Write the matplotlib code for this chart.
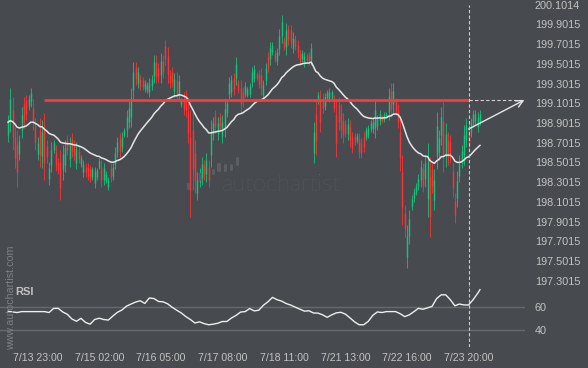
import numpy as np
import pandas as pd
import matplotlib
matplotlib.use("Agg")
import matplotlib.pyplot as plt
from matplotlib.patches import FancyBboxPatch

# ---------------- data ----------------
opens = [198.78, 198.92, 199.03, 198.76, 198.69, 198.59, 198.83, 199.09, 199.13, 199.07,
         199.12, 199.05, 198.87, 198.59, 198.83, 198.57, 198.83, 198.67, 198.33, 198.48,
         198.63, 198.61, 198.51, 198.51, 198.42, 198.48, 198.73, 198.54, 198.74, 198.68,
         198.50, 198.62, 198.49, 198.40, 198.46, 198.46, 198.44, 198.35, 198.29, 198.35,
         198.46, 198.46, 198.32, 198.32, 198.25, 198.45, 198.36, 198.49, 198.61, 198.74,
         198.66, 198.78, 198.83, 198.91, 198.96, 199.24, 199.46, 199.31, 199.35, 199.34,
         199.25, 199.24, 199.22, 199.28, 199.38, 199.52, 199.46, 199.39, 199.53, 199.68,
         199.58, 199.39, 199.42, 199.23, 199.34, 199.20, 199.09, 199.16, 199.17, 199.01,
         198.76, 198.83, 198.60, 198.19, 198.30, 198.34, 198.48, 198.38, 198.46, 198.58,
         198.79, 198.97, 198.79, 198.96, 198.77, 198.85, 199.00, 199.20, 199.22, 199.36,
         199.36, 199.31, 199.26, 199.22, 199.21, 199.19, 199.20, 199.32, 199.36, 199.40,
         199.40, 199.39, 199.19, 199.34, 199.57, 199.55, 199.62, 199.61, 199.53, 199.65,
         199.78, 199.74, 199.67, 199.85, 199.84, 199.66, 199.75, 199.69, 199.60, 199.55,
         199.51, 199.59, 199.59, 199.54, 198.60, 198.99, 199.12, 199.14, 199.16, 199.07,
         199.16, 199.15, 199.16, 199.15, 198.99, 199.09, 199.00, 198.92, 198.89, 198.79,
         198.86, 198.76, 198.77, 198.73, 198.74, 198.70, 198.76, 198.76, 198.78, 198.84,
         198.84, 198.85, 198.87, 198.92, 198.96, 198.94, 198.97, 199.01, 199.23, 199.09,
         199.12, 199.02, 198.81, 198.40, 197.99, 197.54, 197.76, 198.06, 198.14, 198.20,
         198.26, 198.32, 198.43, 198.33, 198.13, 198.35, 198.43, 198.12, 198.57, 198.61,
         198.78, 198.92, 198.57, 198.73, 198.71, 198.41, 198.11, 198.14, 198.36, 198.51,
         198.58, 198.73, 198.83, 198.81, 198.90, 198.92, 198.86, 198.92]
highs = [198.98, 199.26, 199.17, 198.86, 198.83, 198.78, 199.06, 199.17, 199.19, 199.19,
         199.26, 199.14, 198.95, 198.76, 198.95, 198.93, 199.00, 198.73, 198.51, 198.71,
         198.73, 198.68, 198.55, 198.63, 198.68, 198.73, 198.78, 198.76, 198.80, 198.73,
         198.71, 198.66, 198.58, 198.53, 198.50, 198.50, 198.48, 198.46, 198.46, 198.45,
         198.55, 198.53, 198.50, 198.41, 198.35, 198.50, 198.50, 198.66, 198.76, 198.80,
         198.81, 198.85, 199.03, 199.12, 199.26, 199.52, 199.52, 199.47, 199.39, 199.37,
         199.34, 199.32, 199.36, 199.39, 199.59, 199.59, 199.51, 199.61, 199.59, 199.74,
         199.67, 199.44, 199.47, 199.41, 199.42, 199.39, 199.16, 199.22, 199.24, 199.12,
         199.03, 199.03, 198.73, 198.40, 198.45, 198.56, 198.53, 198.60, 198.53, 198.93,
         198.96, 199.03, 198.96, 199.00, 198.98, 199.14, 199.14, 199.37, 199.39, 199.41,
         199.57, 199.34, 199.34, 199.27, 199.32, 199.27, 199.31, 199.47, 199.49, 199.42,
         199.44, 199.46, 199.34, 199.51, 199.62, 199.72, 199.72, 199.64, 199.66, 199.85,
         200.00, 199.77, 199.92, 199.90, 199.90, 199.82, 199.79, 199.74, 199.64, 199.64,
         199.62, 199.61, 199.62, 199.71, 198.91, 199.13, 199.22, 199.24, 199.21, 199.21,
         199.24, 199.26, 199.24, 199.19, 199.14, 199.17, 199.09, 199.00, 198.93, 198.95,
         198.93, 198.81, 198.80, 198.80, 198.80, 198.75, 198.81, 198.86, 198.88, 198.93,
         198.95, 199.14, 198.98, 199.03, 198.98, 199.01, 199.01, 199.26, 199.31, 199.31,
         199.16, 199.09, 198.95, 198.58, 198.07, 197.87, 198.02, 198.17, 198.24, 198.29,
         198.38, 198.53, 198.50, 198.58, 198.70, 198.56, 198.50, 198.43, 199.01, 198.83,
         199.06, 199.11, 198.90, 198.81, 198.78, 198.50, 198.19, 198.41, 198.58, 198.68,
         198.88, 198.95, 198.91, 198.95, 199.03, 199.03, 199.01, 199.03]
lows = [198.71, 198.81, 198.63, 198.45, 198.25, 198.53, 198.75, 198.85, 198.93, 199.03,
        199.06, 198.83, 198.63, 198.53, 198.46, 198.45, 198.32, 198.50, 198.27, 198.40,
        198.60, 198.41, 198.38, 198.12, 198.32, 198.40, 198.58, 198.46, 198.56, 198.53,
        198.43, 198.50, 198.46, 198.35, 198.35, 198.32, 198.30, 198.32, 198.24, 198.32,
        198.43, 198.25, 198.27, 198.29, 198.22, 198.30, 198.32, 198.43, 198.56, 198.56,
        198.61, 198.76, 198.76, 198.85, 198.86, 199.14, 199.29, 199.26, 199.24, 199.24,
        199.22, 199.21, 199.17, 199.24, 199.31, 199.31, 199.32, 199.31, 199.36, 199.49,
        199.31, 199.26, 199.27, 199.17, 199.12, 199.14, 199.06, 198.98, 198.96, 198.70,
        197.95, 198.22, 198.19, 198.12, 198.25, 198.27, 198.32, 198.30, 198.25, 198.46,
        198.73, 198.80, 198.73, 198.83, 198.70, 198.76, 198.96, 199.14, 199.17, 199.19,
        199.29, 199.21, 199.00, 199.06, 199.17, 199.17, 199.17, 199.27, 199.32, 199.34,
        199.26, 199.19, 199.14, 199.29, 199.42, 199.49, 199.59, 199.52, 199.49, 199.59,
        199.71, 199.64, 199.59, 199.69, 199.66, 199.61, 199.64, 199.56, 199.49, 199.52,
        199.47, 199.52, 199.49, 199.49, 198.50, 198.58, 199.09, 198.81, 199.00, 199.03,
        199.14, 199.11, 199.14, 199.01, 198.56, 198.83, 198.75, 198.70, 198.76, 198.73,
        198.66, 198.60, 198.68, 198.70, 198.55, 198.55, 198.61, 198.73, 198.75, 198.81,
        198.80, 198.75, 198.83, 198.88, 198.90, 198.91, 198.95, 198.93, 198.96, 199.00,
        198.98, 198.85, 198.41, 197.87, 197.75, 197.43, 197.67, 198.02, 198.10, 198.17,
        198.22, 198.25, 198.20, 198.25, 197.95, 197.75, 198.19, 198.02, 198.43, 198.53,
        198.68, 198.40, 198.46, 198.48, 198.50, 198.15, 197.89, 198.05, 198.30, 198.45,
        198.48, 198.66, 198.61, 198.76, 198.86, 198.88, 198.81, 198.88]
closes = [198.91, 199.15, 198.76, 198.55, 198.40, 198.72, 198.98, 198.93, 198.99, 199.15,
          199.21, 198.91, 198.71, 198.70, 198.58, 198.81, 198.50, 198.56, 198.45, 198.63,
          198.70, 198.48, 198.42, 198.24, 198.59, 198.65, 198.63, 198.68, 198.62, 198.58,
          198.64, 198.54, 198.55, 198.49, 198.40, 198.36, 198.34, 198.43, 198.41, 198.42,
          198.52, 198.32, 198.45, 198.38, 198.32, 198.35, 198.46, 198.60, 198.71, 198.62,
          198.76, 198.83, 198.96, 199.05, 199.16, 199.42, 199.35, 199.42, 199.28, 199.27,
          199.31, 199.29, 199.31, 199.35, 199.52, 199.38, 199.37, 199.53, 199.42, 199.55,
          199.40, 199.31, 199.32, 199.35, 199.20, 199.33, 199.14, 199.04, 199.03, 198.80,
          198.22, 198.43, 198.32, 198.32, 198.40, 198.49, 198.38, 198.53, 198.32, 198.81,
          198.90, 198.86, 198.90, 198.87, 198.91, 199.04, 199.10, 199.31, 199.34, 199.24,
          199.50, 199.24, 199.09, 199.12, 199.28, 199.25, 199.28, 199.42, 199.45, 199.36,
          199.30, 199.26, 199.29, 199.46, 199.47, 199.66, 199.69, 199.55, 199.62, 199.78,
          199.93, 199.67, 199.84, 199.74, 199.72, 199.76, 199.68, 199.61, 199.53, 199.61,
          199.58, 199.54, 199.52, 199.66, 198.81, 198.72, 199.19, 198.91, 199.05, 199.17,
          199.22, 199.22, 199.22, 199.05, 198.70, 198.91, 198.83, 198.78, 198.80, 198.89,
          198.73, 198.65, 198.71, 198.77, 198.61, 198.60, 198.66, 198.83, 198.85, 198.90,
          198.91, 199.03, 198.94, 198.99, 198.92, 198.98, 198.99, 199.18, 199.04, 199.23,
          199.02, 198.91, 198.55, 198.05, 197.83, 197.76, 197.93, 198.13, 198.20, 198.26,
          198.33, 198.46, 198.27, 198.50, 198.52, 197.95, 198.26, 198.32, 198.87, 198.75,
          198.96, 198.58, 198.79, 198.56, 198.57, 198.24, 197.97, 198.31, 198.49, 198.62,
          198.78, 198.88, 198.69, 198.90, 198.99, 198.99, 198.96, 198.99]

# RSI read every second bar (last value at the final bar)
rsi_values = [56.0, 55.5, 55.0, 55.8, 55.8, 55.8, 55.8, 55.8, 55.8, 55.0,
              58.5, 58.6, 55.5, 53.5, 49.5, 47.5, 50.0, 46.5, 45.0, 49.0,
              50.1, 49.0, 48.5, 52.0, 55.2, 57.2, 60.5, 62.3, 64.0, 65.1,
              62.8, 67.5, 67.0, 64.5, 64.2, 62.5, 59.5, 57.0, 54.6, 51.5,
              49.0, 46.0, 47.0, 45.5, 44.5, 45.0, 45.8, 47.3, 47.3, 50.3,
              52.5, 55.4, 55.8, 58.4, 56.4, 57.0, 61.2, 64.2, 68.0, 66.0,
              64.8, 62.7, 61.4, 59.6, 57.9, 56.2, 56.5, 54.6, 54.5, 53.0,
              50.9, 53.0, 54.7, 55.2, 53.6, 50.4, 47.0, 44.5, 44.5, 47.4,
              52.6, 55.5, 55.0, 55.8, 55.8, 55.8, 54.0, 51.5, 53.0, 55.7,
              58.6, 57.8, 59.0, 60.3, 67.0, 70.2, 70.2, 66.0, 60.8, 62.3,
              61.5, 61.5, 66.0, 71.5, 74.6]

date_tick_bars = [13, 40, 67, 94, 121, 148, 175, 202]
date_tick_labels = ["7/13 23:00", "7/15 02:00", "7/16 05:00", "7/17 08:00",
                    "7/18 11:00", "7/21 13:00", "7/22 16:00", "7/23 20:00"]
price_ticks = [197.3015, 197.5015, 197.7015, 197.9015, 198.1015, 198.3015, 198.5015,
               198.7015, 198.9015, 199.1015, 199.3015, 199.5015, 199.7015, 199.9015, 200.1014]
price_tick_labels = ["197.3015", "197.5015", "197.7015", "197.9015", "198.1015",
                     "198.3015", "198.5015", "198.7015", "198.9015", "199.1015",
                     "199.3015", "199.5015", "199.7015", "199.9015", "200.1014"]
rsi_ticks = [40, 60]
rsi_tick_labels = ["40", "60"]

pattern_level = 199.13
pattern_start_bar = 16
pattern_end_bar = 202
forecast_start = (202, 198.84)
forecast_end = (226.5, 199.135)
ma_span = 30

# ---------------- styling ----------------
BG = "#474a4f"
TXT = "#c3c3c3"
UP = "#16c27c"
DN = "#fa3434"
plt.rcParams['font.family'] = ['Liberation Sans', 'DejaVu Sans']

W, H = 588, 368
fig = plt.figure(figsize=(W / 100, H / 100), dpi=100, facecolor=BG)

def rect(left_px, top_px, right_px, bottom_px):
    return [left_px / W, 1 - bottom_px / H, (right_px - left_px) / W, (bottom_px - top_px) / H]

ax = fig.add_axes(rect(0, 0, 525, 285))
axr = fig.add_axes(rect(0, 285, 525, 347), sharex=ax)
for a in (ax, axr):
    a.set_facecolor(BG)
    for s in a.spines.values():
        s.set_visible(False)

o = np.array(opens); h = np.array(highs); l = np.array(lows); c = np.array(closes)
n = len(c)
idx = np.arange(n)
up = c >= o
cols = np.where(up, UP, DN)

ax.vlines(idx, l, h, colors=cols, linewidths=0.6, zorder=3)
ax.vlines(idx, np.minimum(o, c), np.maximum(o, c), colors=cols, linewidths=1.05, zorder=3)

ma = pd.Series(c).ewm(span=ma_span, adjust=False).mean()
ax.plot(idx, ma, color="#e6e6e6", lw=1.1, zorder=4)

# pattern line
ax.hlines(pattern_level, pattern_start_bar, pattern_end_bar, color="#fb3a3a", lw=2.0, zorder=5)
ax.hlines(pattern_level, pattern_end_bar, forecast_end[0], color="#d0d0d0", lw=0.8,
          linestyles=(0, (3, 2)), zorder=5)
ax.annotate("", xy=forecast_end, xytext=forecast_start,
            arrowprops=dict(arrowstyle="->,head_length=0.5,head_width=0.25",
                            color="#e6e6e6", lw=1.0, shrinkA=0, shrinkB=0), zorder=6)

ymin = 200.149 - 285 * 0.010142
ax.set_ylim(ymin, 200.149)
ax.set_xlim(-8 / 2.28, (525 - 8) / 2.28)
ax.axvline(date_tick_bars[-1], ymax=(285 - 5) / 285, color="#cfcfcf", lw=0.8,
           linestyle=(0, (3, 2)), zorder=6)

ax.yaxis.tick_right()
ax.set_yticks(price_ticks)
ax.set_yticklabels(price_tick_labels)
ax.tick_params(axis='y', length=0, pad=7, labelsize=7.8, labelcolor=TXT)
ax.tick_params(axis='x', length=0, labelbottom=False)

# RSI panel
rx = np.append(np.arange(0, 2 * (len(rsi_values) - 1), 2), n - 1)
for v in rsi_ticks:
    axr.axhline(v, color="#66696e", lw=1.0, zorder=1)
axr.plot(rx, rsi_values, color="#eeeeee", lw=1.0, zorder=3)
axr.axvline(date_tick_bars[-1], color="#cfcfcf", lw=0.8, linestyle=(0, (3, 2)), zorder=4)
axr.set_ylim(40 - 17 / 1.165, 60 + 21.7 / 1.165)
axr.yaxis.tick_right()
axr.set_yticks(rsi_ticks)
axr.set_yticklabels(rsi_tick_labels)
axr.tick_params(axis='y', length=0, pad=7, labelsize=7.8, labelcolor=TXT)
axr.set_xticks(date_tick_bars)
axr.set_xticklabels(date_tick_labels)
axr.tick_params(axis='x', length=0, pad=4, labelsize=7.6, labelcolor=TXT)

fig.text(15 / W, 1 - 292 / H, "RSI", fontsize=8, fontweight='bold', color=TXT,
         ha='left', va='center', zorder=5)

# watermarks
fig.text(222 / W, 1 - 185 / H, "autochartist", fontsize=17, color="#5f6267",
         family=['Lato', 'DejaVu Sans'], fontweight='light', ha='left', va='center', zorder=0)
for (x0, y0, x1, y1) in [(187, 183, 190, 190), (199, 173, 202, 181), (212, 169, 215, 175),
                         (217, 163, 221, 172), (224, 164, 227, 172), (230, 164, 233, 171),
                         (236, 157, 239, 166)]:
    fig.patches.append(FancyBboxPatch((x0 / W, 1 - y1 / H), (x1 - x0) / W, (y1 - y0) / H,
                                      boxstyle="round,pad=0,rounding_size=0.003",
                                      transform=fig.transFigure, facecolor="#5b5e63",
                                      edgecolor='none', zorder=0))
fig.text(11 / W, 1 - 298 / H, "www.autochartist.com", rotation=90, fontsize=7.7,
         color="#7d8085", ha='center', va='center', zorder=1)

fig.savefig("out.png", dpi=100, facecolor=BG)
